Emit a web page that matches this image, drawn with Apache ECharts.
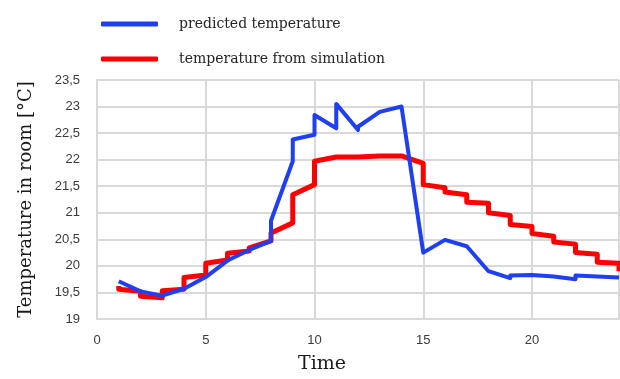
<!DOCTYPE html>
<html>
<head>
<meta charset="utf-8">
<script src="https://cdn.jsdelivr.net/npm/echarts@6/dist/echarts.min.js"></script>
<style>html,body{margin:0;padding:0;background:#fff}#c{width:620px;height:379px}</style>
</head>
<body>
<div id="c"></div>
<script>
var seriesNames = ['predicted temperature', 'temperature from simulation'];
var yTickLabels = ['19','19,5','20','20,5','21','21,5','22','22,5','23','23,5'];
var xTickLabels = ['0','5','10','15','20'];
// [hour, value]
var predicted = [[1,19.71],[2,19.52],[3,19.44],[4,19.57],[5,19.79],[6,20.1],[7,20.3],[8,20.47],[8,20.85],[9,21.97],[9,22.38],[10,22.47],[10,22.84],[11,22.59],[11,23.05],[12,22.56],[12,22.62],[13,22.9],[14,23.0],[15,20.25],[16,20.49],[17,20.37],[18,19.9],[19,19.77],[19,19.82],[20,19.83],[21,19.8],[22,19.75],[22,19.82],[23,19.8],[23,19.83],[24,19.78]];
var simulation = [[1,19.62],[1,19.56],[2,19.52],[2,19.43],[3,19.4],[3,19.53],[4,19.56],[4,19.78],[5,19.83],[5,20.05],[6,20.11],[6,20.24],[7,20.28],[7,20.34],[8,20.47],[8,20.62],[9,20.81],[9,21.34],[10,21.53],[10,21.97],[11,22.05],[12,22.05],[12,22.02],[13,22.07],[14,22.07],[15,21.93],[15,21.53],[16,21.47],[16,21.39],[17,21.34],[17,21.2],[18,21.18],[18,21.0],[19,20.95],[19,20.78],[20,20.74],[20,20.61],[21,20.56],[21,20.45],[22,20.41],[22,20.25],[23,20.22],[23,20.07],[24,20.05],[24,19.9]];

var chart = echarts.init(document.getElementById('c'), null, {renderer:'canvas'});
chart.setOption({
  animation: false,
  backgroundColor: '#fff',
  legend: {
    orient: 'vertical', left: 96, top: 12, itemWidth: 57, itemHeight: 5, itemGap: 21,
    icon: 'roundRect',
    textStyle: {fontFamily: 'DejaVu Serif', fontSize: 14, color: '#262626', padding: [0,0,0,16]},
    data: seriesNames
  },
  grid: {left: 97, right: 1, top: 80, bottom: 59},
  xAxis: {
    type: 'value', min: 0, max: 24, interval: 5,
    name: 'Time', nameLocation: 'middle', nameGap: 36,
    nameTextStyle: {fontFamily: 'DejaVu Serif', fontSize: 19, color: '#1a1a1a', padding: [0,72,0,0]},
    axisLine: {show: true, lineStyle: {color: '#d9d9d9', width: 2}},
    axisTick: {show: false},
    axisLabel: {showMaxLabel: false, margin: 15, fontFamily: 'Liberation Sans', fontSize: 13, color: '#3a3a3a',
      formatter: function(v){ var i = xTickLabels.indexOf(String(v)); return i>=0 ? xTickLabels[i] : ''; }},
    splitLine: {show: true, lineStyle: {color: '#d9d9d9', width: 2}}
  },
  yAxis: {
    type: 'value', min: 19, max: 23.5, interval: 0.5,
    name: 'Temperature in room [°C]', nameLocation: 'middle', nameGap: 62,
    nameTextStyle: {fontFamily: 'DejaVu Serif', fontSize: 18, color: '#1a1a1a'},
    axisLine: {show: true, lineStyle: {color: '#d9d9d9', width: 2}},
    axisTick: {show: false},
    axisLabel: {margin: 17, fontFamily: 'Liberation Sans', fontSize: 13, color: '#3a3a3a',
      formatter: function(v){ return yTickLabels[Math.round((v-19)/0.5)]; }},
    splitLine: {show: true, lineStyle: {color: '#d9d9d9', width: 2}}
  },
  series: [
    {name: seriesNames[0], type: 'line', data: predicted, showSymbol: false, symbol: 'none',
     lineStyle: {color: '#1f3ff2', width: 4, join: 'round'}, itemStyle: {color: '#1f3ff2'}, z: 3},
    {name: seriesNames[1], type: 'line', data: simulation, showSymbol: false, symbol: 'none',
     lineStyle: {color: '#ff0000', width: 5, join: 'round'}, itemStyle: {color: '#ff0000'}, z: 2}
  ]
});
</script>
</body>
</html>
